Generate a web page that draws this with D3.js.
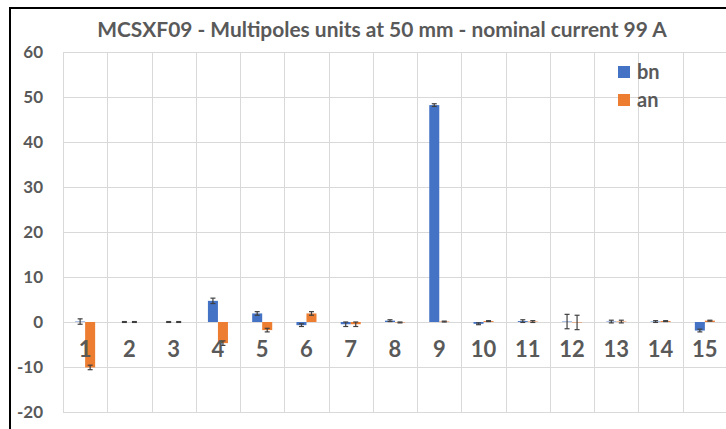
<!DOCTYPE html>
<html>
<head>
<meta charset="utf-8">
<script src="https://cdn.jsdelivr.net/npm/d3@7"></script>
<style>
  body { margin: 0; background: #fff; }
  svg { display: block; font-family: Lato, "Open Sans", sans-serif; }
</style>
</head>
<body>
<svg width="726" height="429"></svg>
<script>
const width = 726;
const height = 429;

// data
const categories = ["1", "2", "3", "4", "5", "6", "7", "8", "9", "10", "11", "12", "13", "14", "15"];
const series = ["bn", "an"];
const bnValues = [0.1, 0.0, 0.0, 4.7, 1.9, -0.7, -0.5, 0.3, 48.2, -0.4, 0.2, 0.1, 0.1, 0.1, -1.9];
const anValues = [-10.1, 0.0, 0.0, -4.7, -1.8, 1.9, -0.5, -0.1, 0.1, 0.2, 0.1, -0.1, 0.1, 0.2, 0.3];
const bnErrors = [0.6, 0.1, 0.1, 0.6, 0.4, 0.3, 0.5, 0.2, 0.3, 0.2, 0.3, 1.6, 0.3, 0.2, 0.3];
const anErrors = [0.5, 0.1, 0.1, 0.5, 0.4, 0.4, 0.5, 0.1, 0.1, 0.1, 0.2, 1.6, 0.3, 0.1, 0.1];
const yTicks = [-20, -10, 0, 10, 20, 30, 40, 50, 60];
const colors = { bn: "#4472C4", an: "#ED7D31" };

const plot = { left: 63, right: 727, top: 52, bottom: 412 };
const textColor = "#595959";

const svg = d3.select("svg");

const x = d3.scaleBand().domain(categories).range([plot.left, plot.right]);
const x1 = d3.scaleBand().domain(series).range([0, x.bandwidth()]).paddingOuter(1.21);
const y = d3.scaleLinear().domain([-20, 60]).range([plot.bottom, plot.top]);

// outer frame (top and left only)
svg.append("path")
    .attr("d", "M10,429 V8 H726")
    .attr("fill", "none")
    .attr("stroke", "#000")
    .attr("stroke-width", 2);

// grid
const grid = svg.append("g").attr("stroke", "#d9d9d9").attr("stroke-width", 1);
grid.selectAll("line.h")
    .data(yTicks)
    .join("line")
    .attr("class", "h")
    .attr("x1", plot.left).attr("x2", plot.right)
    .attr("y1", d => Math.round(y(d)) + 0.5)
    .attr("y2", d => Math.round(y(d)) + 0.5);
grid.selectAll("line.v")
    .data(categories)
    .join("line")
    .attr("class", "v")
    .attr("x1", d => Math.round(x(d)) + 0.5)
    .attr("x2", d => Math.round(x(d)) + 0.5)
    .attr("y1", plot.top).attr("y2", plot.bottom);

// title, widened to the span it has in the picture
const title = svg.append("text")
    .attr("x", 382)
    .attr("y", 37)
    .attr("text-anchor", "middle")
    .attr("font-size", 17)
    .attr("font-weight", "bold")
    .attr("fill", textColor)
    .text("MCSXF09 - Multipoles units at 50 mm - nominal current 99 A");
const tw = title.node().getComputedTextLength();
title.attr("font-size", Math.min(21, 17 * 570 / tw));

// y tick labels
svg.append("g").selectAll("text")
    .data(yTicks)
    .join("text")
    .attr("x", 43)
    .attr("y", d => y(d) + 6)
    .attr("text-anchor", "end")
    .attr("font-size", 17)
    .attr("font-weight", "bold")
    .attr("fill", textColor)
    .text(d => d);

// bars
const rows = categories.map((c, i) => ({
  cat: c,
  items: [
    { key: "bn", value: bnValues[i], err: bnErrors[i] },
    { key: "an", value: anValues[i], err: anErrors[i] }
  ]
}));

const groups = svg.append("g").selectAll("g")
    .data(rows)
    .join("g")
    .attr("transform", d => `translate(${x(d.cat)},0)`);

groups.selectAll("rect")
    .data(d => d.items)
    .join("rect")
    .attr("x", d => x1(d.key))
    .attr("width", x1.bandwidth())
    .attr("y", d => y(Math.max(0, d.value)))
    .attr("height", d => Math.abs(y(d.value) - y(0)))
    .attr("fill", d => colors[d.key]);

// error bars
const eb = groups.selectAll("g.err")
    .data(d => d.items)
    .join("g")
    .attr("class", "err")
    .attr("stroke", "#404040")
    .attr("stroke-width", 1.2);
eb.append("line")
    .attr("x1", d => x1(d.key) + x1.bandwidth() / 2)
    .attr("x2", d => x1(d.key) + x1.bandwidth() / 2)
    .attr("y1", d => y(d.value - d.err))
    .attr("y2", d => y(d.value + d.err));
eb.selectAll("line.cap")
    .data(d => [d.value - d.err, d.value + d.err].map(v => ({ key: d.key, v })))
    .join("line")
    .attr("class", "cap")
    .attr("x1", d => x1(d.key) + x1.bandwidth() / 2 - 2.5)
    .attr("x2", d => x1(d.key) + x1.bandwidth() / 2 + 2.5)
    .attr("y1", d => y(d.v))
    .attr("y2", d => y(d.v));

// category labels, sitting just below zero
svg.append("g").selectAll("text")
    .data(categories)
    .join("text")
    .attr("x", d => x(d) + x.bandwidth() / 2)
    .attr("y", y(0) + 35)
    .attr("text-anchor", "middle")
    .attr("font-size", 22)
    .attr("font-weight", "bold")
    .attr("fill", textColor)
    .text(d => d);

// legend
const legend = svg.append("g").selectAll("g")
    .data(series)
    .join("g")
    .attr("transform", (d, i) => `translate(618,${66 + i * 28})`);
legend.append("rect")
    .attr("width", 12).attr("height", 12)
    .attr("fill", d => colors[d]);
legend.append("text")
    .attr("x", 19).attr("y", 13)
    .attr("font-size", 20)
    .attr("font-weight", "bold")
    .attr("fill", textColor)
    .text(d => d);
</script>
</body>
</html>
